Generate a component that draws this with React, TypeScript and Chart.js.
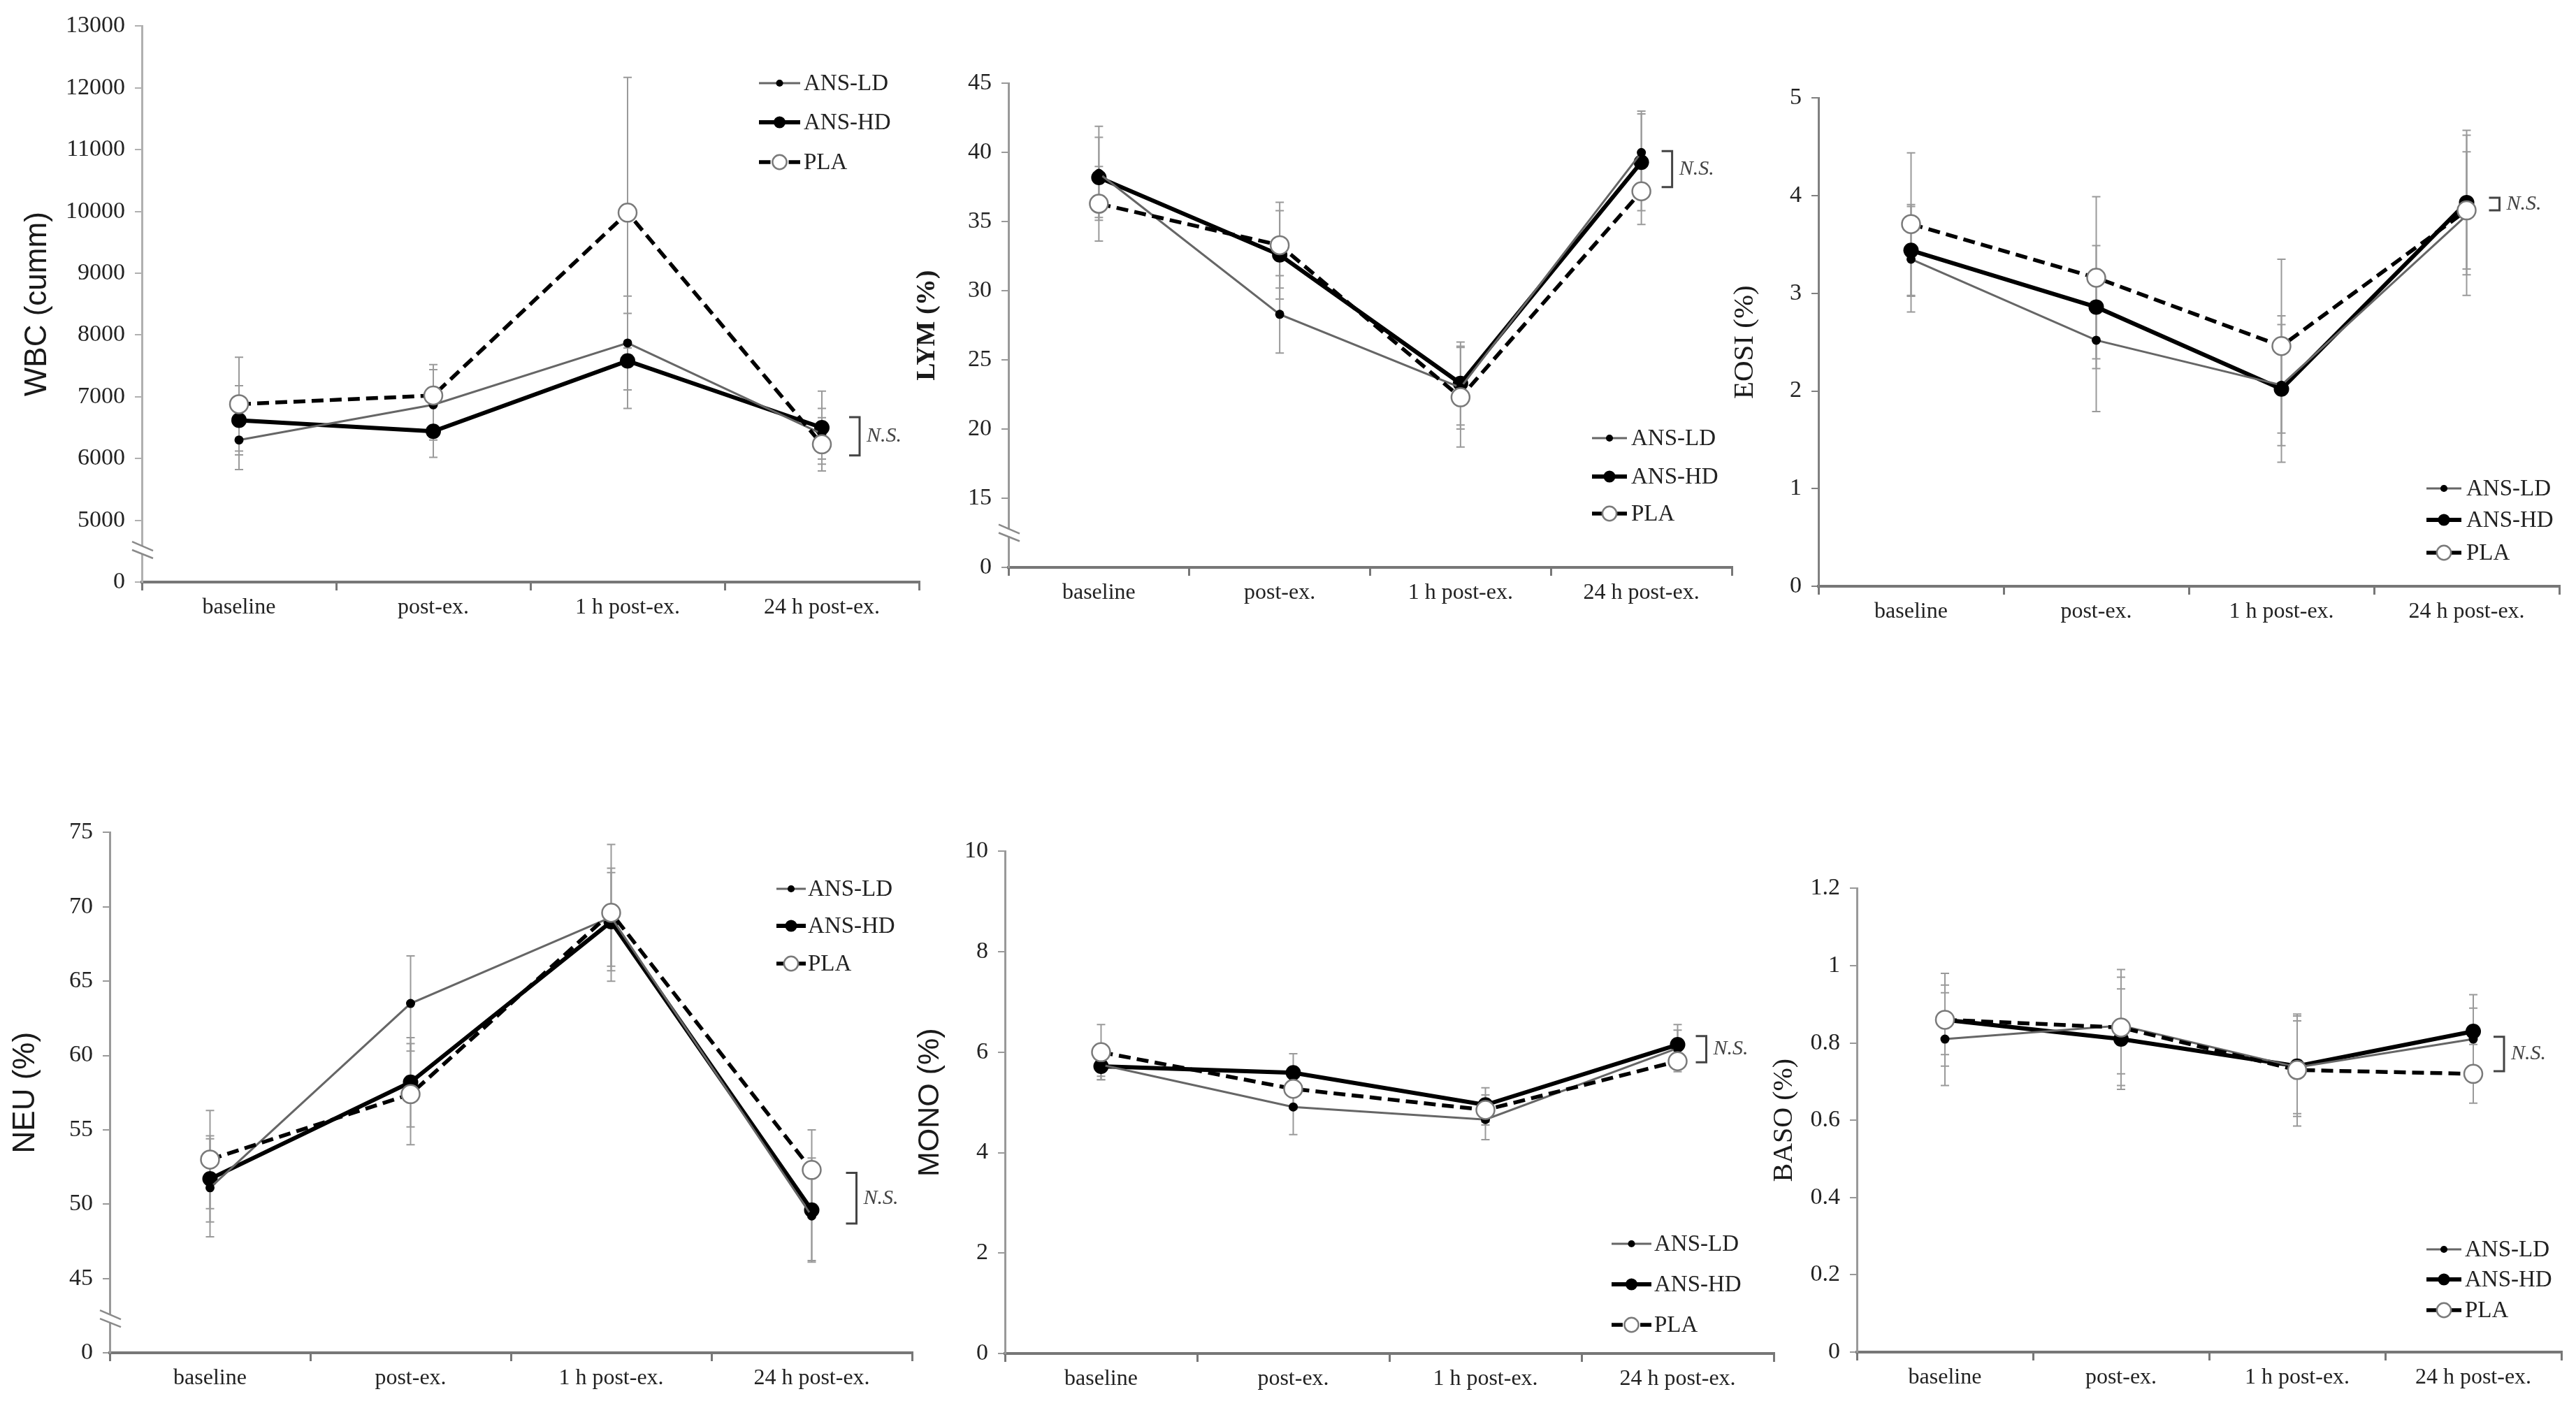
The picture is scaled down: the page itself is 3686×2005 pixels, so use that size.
import React, { useEffect, useRef } from 'react';
import { Chart, registerables } from 'chart.js';

Chart.register(...registerables);

// ---------------- DATA ----------------
const categories = ['baseline', 'post-ex.', '1 h post-ex.', '24 h post-ex.'];
const groupNames = ['ANS-LD', 'ANS-HD', 'PLA'];

// WBC (cumm)
const wbcLD = [6300, 6870, 7870, 6400];
const wbcLDsd = [480, 570, 760, 410];
const wbcHD = [6620, 6440, 7580, 6500];
const wbcHDsd = [560, 420, 770, 590];
const wbcPLA = [6880, 7020, 9980, 6230];
const wbcPLAsd = [760, 500, 2190, 430];
const wbcTicks = [4000, 5000, 6000, 7000, 8000, 9000, 10000, 11000, 12000, 13000];
const wbcTickLabels = ['0', '5000', '6000', '7000', '8000', '9000', '10000', '11000', '12000', '13000'];
const wbcNS = [6050, 6670];

// LYM (%)
const lymLD = [38.5, 28.3, 23.0, 40.0];
const lymLDsd = [3.4, 2.8, 3.0, 3.0];
const lymHD = [38.2, 32.6, 23.3, 39.3];
const lymHDsd = [2.9, 3.2, 3.0, 3.5];
const lymPLA = [36.3, 33.3, 22.3, 37.2];
const lymPLAsd = [2.7, 3.1, 3.6, 2.4];
const lymTicks = [10, 15, 20, 25, 30, 35, 40, 45];
const lymTickLabels = ['0', '15', '20', '25', '30', '35', '40', '45'];
const lymNS = [37.5, 40.1];

// EOSI (%)
const eosiLD = [3.35, 2.52, 2.06, 3.8];
const eosiLDsd = [0.54, 0.73, 0.62, 0.82];
const eosiHD = [3.44, 2.86, 2.02, 3.93];
const eosiHDsd = [0.47, 0.63, 0.75, 0.74];
const eosiPLA = [3.71, 3.16, 2.46, 3.85];
const eosiPLAsd = [0.73, 0.83, 0.89, 0.6];
const eosiTicks = [0, 1, 2, 3, 4, 5];
const eosiTickLabels = ['0', '1', '2', '3', '4', '5'];
const eosiNS = [3.85, 3.98];

// NEU (%)
const neuLD = [51.1, 63.5, 69.3, 49.2];
const neuLDsd = [3.3, 3.2, 3.3, 3.0];
const neuHD = [51.7, 58.2, 69.0, 49.6];
const neuHDsd = [2.9, 3.0, 3.3, 3.5];
const neuPLA = [53.0, 57.4, 69.6, 52.3];
const neuPLAsd = [3.3, 3.4, 4.6, 2.7];
const neuTicks = [40, 45, 50, 55, 60, 65, 70, 75];
const neuTickLabels = ['0', '45', '50', '55', '60', '65', '70', '75'];
const neuNS = [48.7, 52.1];

// MONO (%)
const monoLD = [5.75, 4.91, 4.66, 6.08];
const monoLDsd = [0.3, 0.55, 0.4, 0.36];
const monoHD = [5.72, 5.59, 4.95, 6.15];
const monoHDsd = [0.2, 0.38, 0.34, 0.4];
const monoPLA = [6.0, 5.27, 4.85, 5.82];
const monoPLAsd = [0.55, 0.4, 0.3, 0.21];
const monoTicks = [0, 2, 4, 6, 8, 10];
const monoTickLabels = ['0', '2', '4', '6', '8', '10'];
const monoNS = [5.8, 6.32];

// BASO (%)
const basoLD = [0.81, 0.845, 0.737, 0.81];
const basoLDsd = [0.12, 0.125, 0.12, 0.08];
const basoHD = [0.86, 0.81, 0.74, 0.83];
const basoHDsd = [0.09, 0.13, 0.13, 0.095];
const basoPLA = [0.86, 0.84, 0.73, 0.72];
const basoPLAsd = [0.12, 0.15, 0.145, 0.076];
const basoTicks = [0, 0.2, 0.4, 0.6, 0.8, 1, 1.2];
const basoTickLabels = ['0', '0.2', '0.4', '0.6', '0.8', '1', '1.2'];
const basoNS = [0.727, 0.816];

// ---------------- LAYOUT / STYLE ----------------
const YW = 200; // y-scale box width
const PT = 30; // top padding
const PR = 20; // right padding
const XH = 70; // x-scale box height

const SERIF = '"Liberation Serif", "Times New Roman", serif';
const SANS = '"Liberation Sans", Arial, sans-serif';

const seriesStyles = [
  { borderColor: '#666666', borderWidth: 3, borderDash: [] as number[], pointRadius: 6.5, pointBackgroundColor: '#000', pointBorderColor: '#000', pointBorderWidth: 0, order: 2 },
  { borderColor: '#000000', borderWidth: 6, borderDash: [] as number[], pointRadius: 11, pointBackgroundColor: '#000', pointBorderColor: '#000', pointBorderWidth: 0, order: 3 },
  { borderColor: '#000000', borderWidth: 5.5, borderDash: [17, 9], pointRadius: 13, pointBackgroundColor: '#fff', pointBorderColor: '#7a7a7a', pointBorderWidth: 2.5, order: 1 },
];

type PanelDef = {
  title: string;
  titleFont: { family: string; size: number; weight: string };
  series: number[][];
  errors: number[][];
  ticks: number[];
  tickLabels: string[];
  ns: number[];
  breakAt: number | null;
  xL: number; xR: number; yT: number; yB: number;
  titleX: number;
  axisColor: string;
  legend: { x: number; w: number; textX: number; rows: number[] };
  bracketDx: number;
};

const panels: PanelDef[] = [
  {
    title: 'WBC (cumm)', titleFont: { family: SANS, size: 44, weight: 'normal' },
    series: [wbcLD, wbcHD, wbcPLA], errors: [wbcLDsd, wbcHDsd, wbcPLAsd],
    ticks: wbcTicks, tickLabels: wbcTickLabels, ns: wbcNS, breakAt: 4520,
    xL: 203, xR: 1315, yT: 33, yB: 833, titleX: 54, axisColor: '#b0b0b0',
    legend: { x: 1086, w: 59, textX: 1150, rows: [119, 175, 232] }, bracketDx: 54,
  },
  {
    title: 'LYM (%)', titleFont: { family: SERIF, size: 38, weight: 'bold' },
    series: [lymLD, lymHD, lymPLA], errors: [lymLDsd, lymHDsd, lymPLAsd],
    ticks: lymTicks, tickLabels: lymTickLabels, ns: lymNS, breakAt: 12.5,
    xL: 1443, xR: 2478, yT: 115, yB: 812, titleX: 1327, axisColor: '#999',
    legend: { x: 2278, w: 50, textX: 2334, rows: [627, 682, 735] }, bracketDx: 44,
  },
  {
    title: 'EOSI (%)', titleFont: { family: SERIF, size: 41, weight: 'normal' },
    series: [eosiLD, eosiHD, eosiPLA], errors: [eosiLDsd, eosiHDsd, eosiPLAsd],
    ticks: eosiTicks, tickLabels: eosiTickLabels, ns: eosiNS, breakAt: null,
    xL: 2602, xR: 3662, yT: 136, yB: 839, titleX: 2497, axisColor: '#808080',
    legend: { x: 3472, w: 50, textX: 3529, rows: [699, 744, 791] }, bracketDx: 47,
  },
  {
    title: 'NEU (%)', titleFont: { family: SANS, size: 44, weight: 'normal' },
    series: [neuLD, neuHD, neuPLA], errors: [neuLDsd, neuHDsd, neuPLAsd],
    ticks: neuTicks, tickLabels: neuTickLabels, ns: neuNS, breakAt: 42.3,
    xL: 157, xR: 1305, yT: 1187, yB: 1936, titleX: 37, axisColor: '#999',
    legend: { x: 1111, w: 42, textX: 1156, rows: [1272, 1325, 1379] }, bracketDx: 64,
  },
  {
    title: 'MONO (%)', titleFont: { family: SANS, size: 43, weight: 'normal' },
    series: [monoLD, monoHD, monoPLA], errors: [monoLDsd, monoHDsd, monoPLAsd],
    ticks: monoTicks, tickLabels: monoTickLabels, ns: monoNS, breakAt: null,
    xL: 1438, xR: 2538, yT: 1214, yB: 1937, titleX: 1331, axisColor: '#999',
    legend: { x: 2306, w: 57, textX: 2367, rows: [1780, 1838, 1896] }, bracketDx: 41,
  },
  {
    title: 'BASO (%)', titleFont: { family: SERIF, size: 40, weight: 'normal' },
    series: [basoLD, basoHD, basoPLA], errors: [basoLDsd, basoHDsd, basoPLAsd],
    ticks: basoTicks, tickLabels: basoTickLabels, ns: basoNS, breakAt: null,
    xL: 2657, xR: 3665, yT: 1267, yB: 1935, titleX: 2553, axisColor: '#999',
    legend: { x: 3472, w: 50, textX: 3527, rows: [1788, 1831, 1875] }, bracketDx: 44,
  },
];

// ---------------- PLUGIN ----------------
const decorPlugin = {
  id: 'decor',
  beforeDatasetsDraw(chart: any) {
    const ctx = chart.ctx;
    const ys = chart.scales.y;
    ctx.save();
    ctx.strokeStyle = '#9a9a9a';
    ctx.lineWidth = 2;
    chart.data.datasets.forEach((ds: any, i: number) => {
      const meta = chart.getDatasetMeta(i);
      meta.data.forEach((pt: any, j: number) => {
        const v = ds.data[j];
        const e = ds.errors[j];
        const y1 = ys.getPixelForValue(v + e);
        const y2 = ys.getPixelForValue(v - e);
        ctx.beginPath();
        ctx.moveTo(pt.x, y1);
        ctx.lineTo(pt.x, y2);
        ctx.moveTo(pt.x - 6, y1);
        ctx.lineTo(pt.x + 6, y1);
        ctx.moveTo(pt.x - 6, y2);
        ctx.lineTo(pt.x + 6, y2);
        ctx.stroke();
      });
    });
    ctx.restore();
  },
  afterDraw(chart: any, _args: any, opts: any) {
    const ctx = chart.ctx;
    const xs = chart.scales.x;
    const ys = chart.scales.y;
    const ox = opts.originX;
    const oy = opts.originY;
    ctx.save();

    // axis break marks
    if (opts.breakAt !== null && opts.breakAt !== undefined) {
      const bx = chart.chartArea.left;
      const by = ys.getPixelForValue(opts.breakAt);
      ctx.fillStyle = '#fff';
      ctx.fillRect(bx - 3, by - 5, 6, 10);
      ctx.strokeStyle = '#8a8a8a';
      ctx.lineWidth = 2.5;
      ctx.beginPath();
      ctx.moveTo(bx - 14, by - 12);
      ctx.lineTo(bx + 16, by + 1);
      ctx.moveTo(bx - 14, by + 0);
      ctx.lineTo(bx + 16, by + 12);
      ctx.stroke();
    }

    // N.S. bracket
    const lastX = xs.getPixelForValue(categories.length - 1) + opts.bracketDx;
    const yHi = ys.getPixelForValue(opts.ns[1]);
    const yLo = ys.getPixelForValue(opts.ns[0]);
    ctx.strokeStyle = '#444';
    ctx.lineWidth = 3;
    ctx.beginPath();
    ctx.moveTo(lastX - 15, yHi);
    ctx.lineTo(lastX, yHi);
    ctx.lineTo(lastX, yLo);
    ctx.lineTo(lastX - 15, yLo);
    ctx.stroke();
    ctx.fillStyle = '#444';
    ctx.font = 'italic 30px ' + SERIF;
    ctx.textBaseline = 'middle';
    ctx.textAlign = 'left';
    ctx.fillText('N.S.', lastX + 10, (yHi + yLo) / 2);

    // legend
    const lg = opts.legend;
    chart.data.datasets.forEach((ds: any, i: number) => {
      const y = lg.rows[i] - oy;
      const x0 = lg.x - ox;
      const x1 = x0 + lg.w;
      ctx.strokeStyle = ds.borderColor;
      ctx.lineWidth = ds.borderWidth;
      if (ds.borderDash && ds.borderDash.length) {
        ctx.setLineDash([lg.w * 0.28, lg.w * 0.44]);
      } else {
        ctx.setLineDash([]);
      }
      ctx.beginPath();
      ctx.moveTo(x0, y);
      ctx.lineTo(x1, y);
      ctx.stroke();
      ctx.setLineDash([]);
      ctx.beginPath();
      ctx.arc((x0 + x1) / 2, y, ds.pointRadius * 0.78, 0, Math.PI * 2);
      ctx.fillStyle = ds.pointBackgroundColor;
      ctx.fill();
      if (ds.pointBorderWidth) {
        ctx.strokeStyle = ds.pointBorderColor;
        ctx.lineWidth = ds.pointBorderWidth;
        ctx.stroke();
      }
      ctx.fillStyle = '#222';
      ctx.font = '33px ' + SERIF;
      ctx.textBaseline = 'middle';
      ctx.textAlign = 'left';
      ctx.fillText(ds.label, lg.textX - ox, y + 1);
    });
    ctx.restore();
  },
};

function buildConfig(p: PanelDef, originX: number, originY: number): any {
  const lineH = p.titleFont.size * 1.2;
  const titlePad = p.titleX - originX - lineH / 2;
  return {
    type: 'line',
    data: {
      labels: categories,
      datasets: p.series.map((vals, i) => ({
        label: groupNames[i],
        data: vals,
        errors: p.errors[i],
        tension: 0,
        fill: false,
        ...seriesStyles[i],
      })),
    },
    options: {
      responsive: false,
      animation: false,
      events: [],
      layout: { padding: { left: 0, top: PT, right: PR, bottom: 0 }, autoPadding: false },
      plugins: {
        legend: { display: false },
        tooltip: { enabled: false },
        decor: {
          originX, originY,
          breakAt: p.breakAt,
          ns: p.ns,
          bracketDx: p.bracketDx,
          legend: p.legend,
        },
      },
      scales: {
        x: {
          type: 'category',
          offset: true,
          afterFit: (s: any) => { s.height = XH; },
          ticks: { font: { family: SERIF, size: 32 }, color: '#222', padding: 5, maxRotation: 0, autoSkip: false },
          grid: { offset: true, drawOnChartArea: false, drawTicks: true, tickLength: 12, color: '#777', lineWidth: 3 },
          border: { color: '#777', width: 4 },
        },
        y: {
          type: 'linear',
          min: p.ticks[0],
          max: p.ticks[p.ticks.length - 1],
          afterBuildTicks: (s: any) => { s.ticks = p.ticks.map((v) => ({ value: v })); },
          afterFit: (s: any) => { s.width = YW; },
          ticks: {
            font: { family: SERIF, size: 34 },
            color: '#222',
            padding: 14,
            autoSkip: false,
            callback: (v: number) => {
              const k = p.ticks.findIndex((t) => Math.abs(t - v) < 1e-9);
              return k >= 0 ? p.tickLabels[k] : '';
            },
          },
          grid: { drawOnChartArea: false, drawTicks: true, tickLength: 10, color: p.axisColor, lineWidth: 2 },
          border: { color: p.axisColor, width: 3 },
          title: {
            display: true,
            text: p.title,
            font: p.titleFont,
            color: '#1a1a1a',
            padding: { top: titlePad, bottom: 0 },
          },
        },
      },
    },
    plugins: [decorPlugin],
  };
}

function Panel({ p }: { p: PanelDef }) {
  const ref = useRef<HTMLCanvasElement | null>(null);
  const left = p.xL - YW;
  const top = p.yT - PT;
  const width = p.xR - p.xL + YW + PR;
  const height = p.yB - p.yT + PT + XH;
  useEffect(() => {
    if (!ref.current) return;
    const chart = new Chart(ref.current, buildConfig(p, left, top));
    return () => chart.destroy();
  }, []);
  return (
    <canvas
      ref={ref}
      width={width}
      height={height}
      style={{ position: 'absolute', left, top, width, height }}
    />
  );
}

export default function App() {
  return (
    <div style={{ position: 'absolute', left: 0, top: 0, width: 3686, height: 2005, background: '#fff', overflow: 'hidden' }}>
      {panels.map((p, i) => (
        <Panel key={i} p={p} />
      ))}
    </div>
  );
}
